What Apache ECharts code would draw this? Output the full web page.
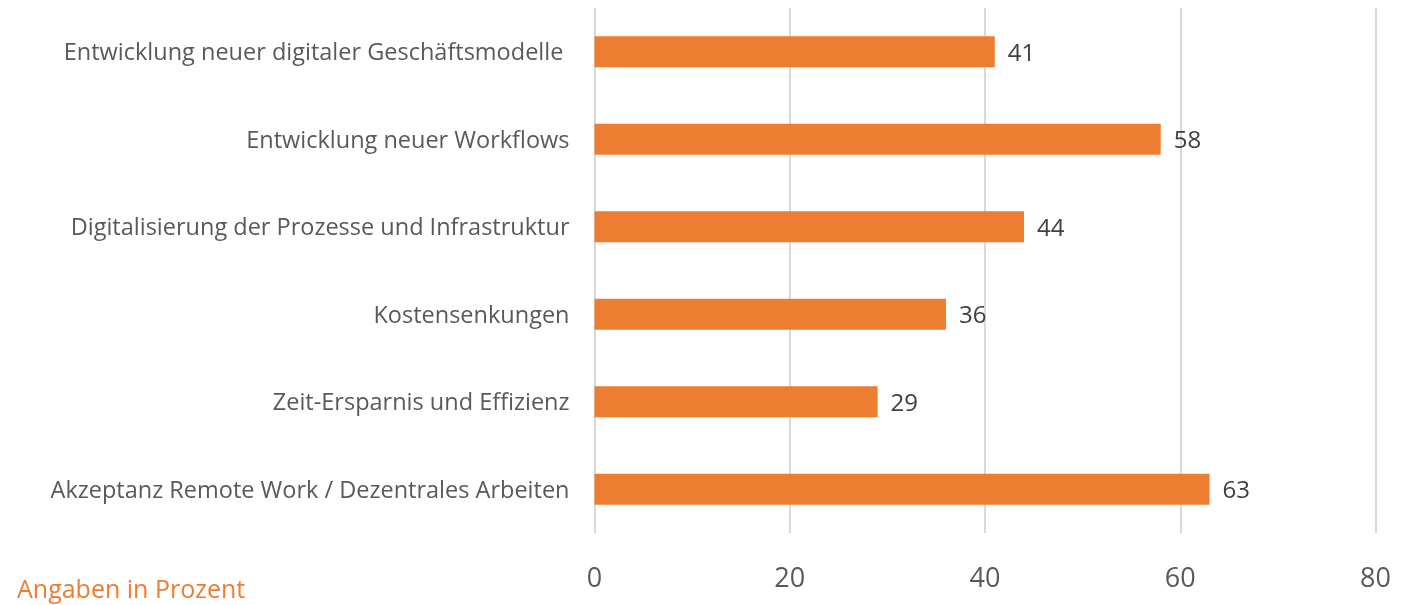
<!DOCTYPE html>
<html>
<head>
<meta charset="utf-8">
<script src="https://cdn.jsdelivr.net/npm/echarts@6/dist/echarts.min.js"></script>
<style>
  html, body { margin: 0; padding: 0; background: #fff; }
  #main { width: 1421px; height: 605px; }
</style>
</head>
<body>
<div id="main"></div>
<script>
const categories = [
  'Akzeptanz Remote Work / Dezentrales Arbeiten',
  'Zeit-Ersparnis und Effizienz',
  'Kostensenkungen',
  'Digitalisierung der Prozesse und Infrastruktur',
  'Entwicklung neuer Workflows',
  'Entwicklung neuer digitaler Geschäftsmodelle '
];
const values = [63, 29, 36, 44, 58, 41];
const xTicks = [0, 20, 40, 60, 80];

const myChart = echarts.init(document.getElementById('main'));
const fontFamily = '"Open Sans", "Noto Sans", sans-serif';

const option = {
  backgroundColor: '#ffffff',
  animation: false,
  grid: {
    left: 594.5,
    width: 781,
    top: 8,
    height: 525
  },
  graphic: [{
    type: 'text',
    left: 17,
    top: 578,
    style: {
      text: 'Angaben in Prozent',
      fill: '#ED7D31',
      font: '25px ' + fontFamily
    }
  }],
  xAxis: {
    type: 'value',
    min: xTicks[0],
    max: xTicks[xTicks.length - 1],
    interval: 20,
    axisLine: { show: false },
    axisTick: { show: false },
    axisLabel: {
      color: '#595959',
      fontSize: 27,
      fontFamily: fontFamily,
      margin: 33
    },
    splitLine: {
      lineStyle: { color: '#d9d9d9', width: 2 }
    }
  },
  yAxis: {
    type: 'category',
    data: categories,
    axisLine: { show: false },
    axisTick: { show: false },
    axisLabel: {
      margin: 25,
      formatter: '{c|{value}}',
      rich: {
        c: {
          color: '#595959',
          fontSize: 23.5,
          fontFamily: fontFamily,
          padding: [4, 0, 0, 0]
        }
      }
    }
  },
  series: [{
    type: 'bar',
    data: values,
    barWidth: 31,
    itemStyle: { color: '#ED7D31' },
    label: {
      show: true,
      position: 'right',
      distance: 13,
      offset: [0, 2],
      color: '#404040',
      fontSize: 24,
      fontFamily: fontFamily
    }
  }]
};

myChart.setOption(option);
</script>
</body>
</html>
